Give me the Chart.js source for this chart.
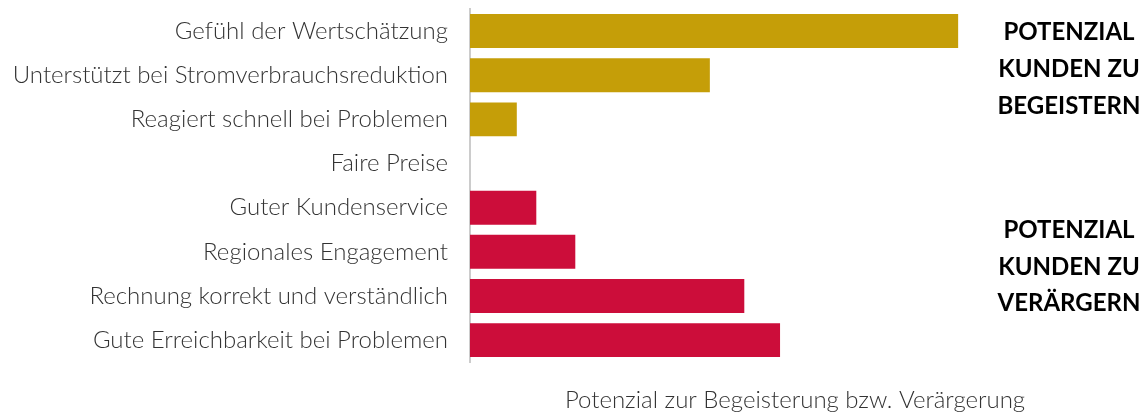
<!DOCTYPE html>
<html>
<head>
<meta charset="utf-8">
<script src="https://cdn.jsdelivr.net/npm/chart.js@4/dist/chart.umd.min.js"></script>
<style>
  html, body { margin: 0; padding: 0; background: #fff; }
  #wrap { width: 1145px; height: 415px; position: relative; }
</style>
</head>
<body>
<div id="wrap"><canvas id="chart"></canvas></div>
<script>
// categories and values
const categories = [
    'Gefühl der Wertschätzung',
    'Unterstützt bei Stromverbrauchsreduktion',
    'Reagiert schnell bei Problemen',
    'Faire Preise',
    'Guter Kundenservice',
    'Regionales Engagement',
    'Rechnung korrekt und verständlich',
    'Gute Erreichbarkeit bei Problemen'
];
const potential = [75.1, 36.9, 7.2, 0, 10.2, 16.2, 42.2, 47.7];
const group = ['up', 'up', 'up', 'up', 'down', 'down', 'down', 'down'];

const GOLD = '#C59E08';
const RED = '#CC0D3A';
const xTitle = 'Potenzial zur Begeisterung bzw. Verärgerung';
const noteTop = ['POTENZIAL', 'KUNDEN ZU', 'BEGEISTERN'];
const noteBottom = ['POTENZIAL', 'KUNDEN ZU', 'VERÄRGERN'];

const notes = {
    id: 'notes',
    afterDraw(chart) {
        const ctx = chart.ctx;
        const y = chart.scales.y;
        ctx.save();
        ctx.font = 'bold 24px Lato';
        ctx.fillStyle = '#000';
        ctx.textAlign = 'center';
        ctx.textBaseline = 'middle';
        const cx = 1069;
        const y0 = y.getPixelForValue(0) + 1;
        noteTop.forEach((t, i) => ctx.fillText(t, cx, y0 + i * 37));
        const y1 = y.getPixelForValue(4) + 23;
        noteBottom.forEach((t, i) => ctx.fillText(t, cx, y1 + i * 36.5));
        ctx.restore();
    }
};

new Chart(document.getElementById('chart'), {
    type: 'bar',
    data: {
        labels: categories,
        datasets: [{
            data: potential,
            backgroundColor: group.map(g => g === 'up' ? GOLD : RED),
            barPercentage: 0.77,
            categoryPercentage: 1
        }]
    },
    options: {
        indexAxis: 'y',
        responsive: true,
        maintainAspectRatio: false,
        animation: false,
        layout: { padding: { top: 9, right: 25, bottom: 0, left: 0 } },
        plugins: { legend: { display: false }, tooltip: { enabled: false } },
        scales: {
            x: {
                min: 0,
                max: 100,
                grid: { display: false, drawTicks: false },
                border: { display: false },
                ticks: { display: false },
                title: {
                    display: true,
                    text: xTitle,
                    color: '#333',
                    font: { family: 'Lato', size: 24, weight: '300' },
                    padding: { top: 24, bottom: 0 }
                }
            },
            y: {
                grid: { display: false, drawTicks: true, tickLength: 22 },
                border: { display: true, color: '#cccccc', width: 2 },
                ticks: {
                    color: '#333',
                    padding: 0,
                    font: { family: 'Lato', size: 24, weight: '300' }
                },
                afterFit(scale) {
                    scale.width = 470;
                    scale.paddingTop = 0;
                    scale.paddingBottom = 0;
                }
            }
        }
    },
    plugins: [notes]
});
</script>
</body>
</html>
